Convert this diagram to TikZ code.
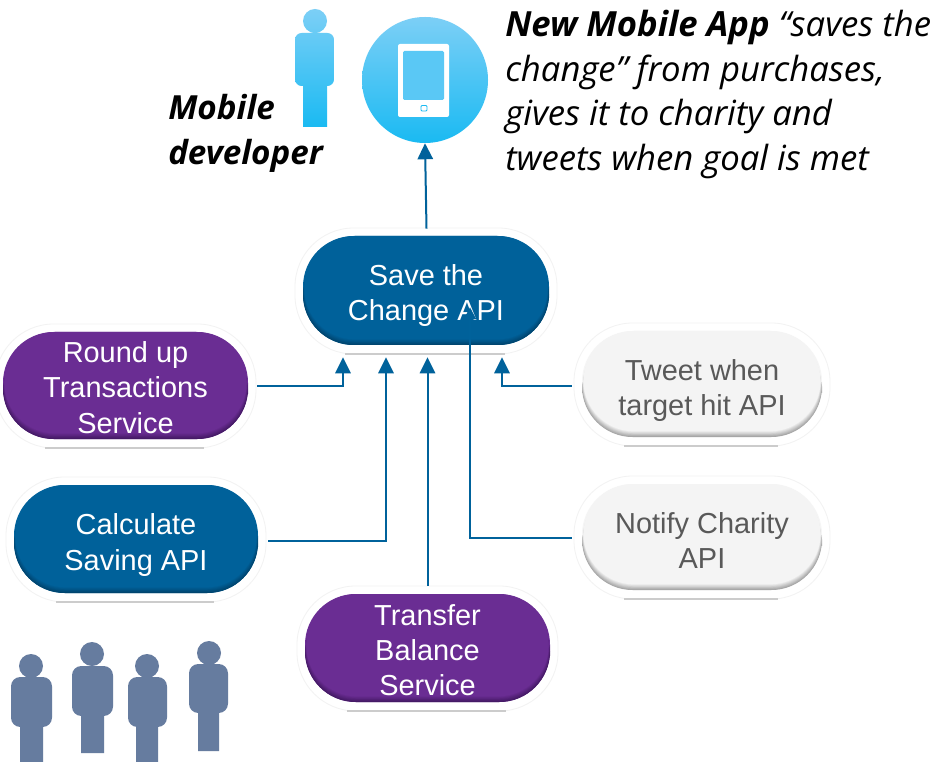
\documentclass[tikz,border=0pt]{standalone}
\usepackage{fontspec}
\setmainfont{Liberation Sans}
\newfontfamily\notefont{Open Sans}
\usetikzlibrary{arrows.meta}
\definecolor{pblue}{HTML}{00629B}
\definecolor{pbluedk}{HTML}{00456F}
\definecolor{ppurple}{HTML}{6B2D94}
\definecolor{ppurpledk}{HTML}{451A66}
\definecolor{pgrey}{HTML}{F5F5F5}
\definecolor{pgreydk}{HTML}{A6A6A6}
\definecolor{skytop}{HTML}{7CCFF6}
\definecolor{skybot}{HTML}{1ABAF2}
\definecolor{crowd}{HTML}{667C9F}
\definecolor{conncol}{HTML}{00629B}
\tikzset{
  pilltext/.style={rectangle,inner sep=0pt,align=center,text=white,
    font=\fontsize{21.7}{26.4}\selectfont},
  greytext/.style={pilltext,text=black!65},
  conn/.style={draw=conncol,line width=1.5pt,-{Triangle[length=12pt,width=11.5pt]}},
  conninner/.style={draw=conncol,line width=1.5pt,-{Triangle[length=9pt,width=9pt]}},
  note/.style={anchor=north west,inner sep=0pt,align=left,text=black,
    font=\notefont\fontsize{26}{33.5}\selectfont\itshape},
  devnotestyle/.style={note,font=\notefont\fontsize{24.9}{33.5}\selectfont\itshape},
  halo/.style={draw=black!5,line width=0.6pt,rounded corners=44pt},
  haloline/.style={draw=black!20,line width=1.3pt},
}
% x1 y1 x2 y2 dark main
\newcommand{\pillbg}[6]{%
  \path[halo] (#1-8,#2-8) rectangle (#3+8,#4+9);
  \draw[haloline] (#1+42,#4+9) -- (#3-44,#4+9);
  \fill[#6,rounded corners=38pt] (#1,#2) rectangle (#3,#4);
  \foreach \i in {0,...,7}{%
    \pgfmathtruncatemacro{\p}{100-\i*14}%
    \pgfmathsetmacro{\t}{(7-\i)*1.6}%
    \fill[#5!\p!#6,rounded corners=38pt]
      (#1+\i*0.2,#2+\t) rectangle (#3-\i*0.2,#4-\i*0.8);
  }%
}
\begin{document}
\begin{tikzpicture}[x=0.75pt,y=-0.75pt]
\path[use as bounding box,fill=white] (0,0) rectangle (948,762);

% pills
\pillbg{303}{236}{549}{345}{pbluedk}{pblue}
\pillbg{3}{332}{248}{439}{ppurpledk}{ppurple}
\pillbg{14}{485}{258}{593}{pbluedk}{pblue}
\pillbg{305}{594}{550}{702}{ppurpledk}{ppurple}
\pillbg{582}{331}{822}{437}{pgreydk}{pgrey}
\pillbg{582}{484}{822}{590}{pgreydk}{pgrey}

\node[pilltext,minimum width=184.5pt,minimum height=81.75pt] (save) at (426,290.5) {};
\node[pilltext,anchor=center] (savetext) at (426,295.5) {Save the\\Change API};
\node[pilltext,minimum width=183.75pt,minimum height=80.25pt] (round) at (125.5,385.5) {};
\node[pilltext] (roundtext) at (125.5,387.5) {Round up\\Transactions\\Service};
\node[pilltext,minimum width=183pt,minimum height=81pt] (calc) at (136,539) {};
\node[pilltext] (calctext) at (136,545) {Calculate\\Saving API};
\node[pilltext,minimum width=183.75pt,minimum height=81pt] (transfer) at (427.5,648) {};
\node[pilltext] (transfertext) at (427.5,650) {Transfer\\Balance\\Service};
\node[greytext,minimum width=180pt,minimum height=79.5pt] (tweet) at (702,384) {};
\node[greytext] (tweettext) at (702,390.5) {Tweet when\\target hit API};
\node[greytext,minimum width=180pt,minimum height=79.5pt] (notify) at (702,537) {};
\node[greytext] (notifytext) at (702,540.5) {Notify Charity\\API};

% phone
\node[circle,minimum size=94.5pt,inner sep=0pt,top color=skytop,bottom color=skybot] (phone) at (425,80) {};
\fill[white,rounded corners=1.5pt] (398,44) rectangle (449,117);
\fill[skytop!65!skybot,rounded corners=1pt] (403,51) rectangle (444,100);
\draw[skybot,line width=0.7pt,rounded corners=0.8pt] (421,105.5) rectangle (427,111);

% developer
\shade[top color=skytop,bottom color=skybot]
  (315,21) circle[radius=9pt]
  [rounded corners=5pt] (295,33) rectangle (334,86)
  [sharp corners] (303,80) rectangle (327,127);

% crowd
\fill[crowd]
  (31,666) circle[radius=9pt] [rounded corners=7pt] (11,677) rectangle (52,727) [sharp corners] (20,720) rectangle (43,762)
  (92,654) circle[radius=9pt] [rounded corners=7pt] (72,666) rectangle (113,716) [sharp corners] (81,710) rectangle (104,753)
  (147,666) circle[radius=9pt] [rounded corners=7pt] (128,677) rectangle (167,727) [sharp corners] (136,720) rectangle (158,762)
  (209,653) circle[radius=9pt] [rounded corners=7pt] (189,664) rectangle (228,713) [sharp corners] (198,706) rectangle (219,751);

% notes
\node[devnotestyle] (devnote) at (168,94) {\bfseries Mobile\\\bfseries developer};
\node[note] (appnote) at (505,10) {{\bfseries New Mobile App} “saves the\\change” from purchases,\\gives it to charity and\\tweets when goal is met};

% connectors
\draw[conn] ([shift={(0.5,-7)}]save.north) -- (phone.south);
\draw[conn] ([shift={(9,0)}]round.east) -| ([shift={(-83,12)}]save.south);
\draw[conn] ([shift={(10,2)}]calc.east) -| ([shift={(-40,12)}]save.south);
\draw[conn] ([shift={(0,-8)}]transfer.north) -- ([shift={(1.5,12)}]save.south);
\draw[conn] ([shift={(-10,1.5)}]tweet.west) -| ([shift={(76,12)}]save.south);
\draw[conninner] ([shift={(-10,1)}]notify.west) -| ([shift={(44,-38)}]save.south);
\end{tikzpicture}
\end{document}
